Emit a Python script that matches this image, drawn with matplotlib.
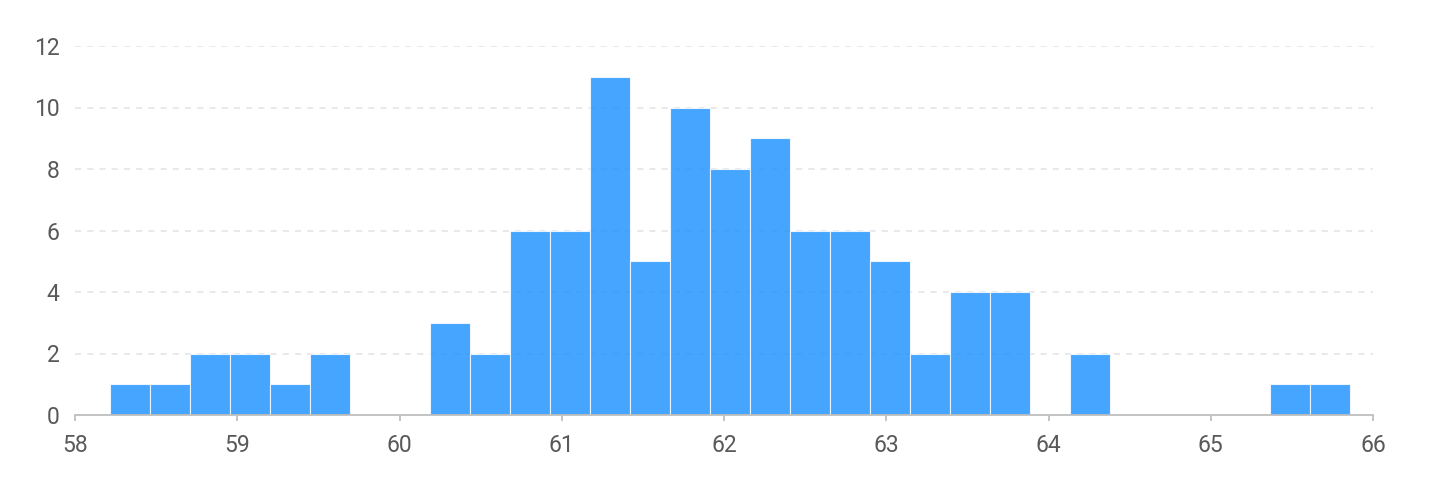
import matplotlib

matplotlib.use("Agg")

import matplotlib.pyplot as plt
import numpy as np

# histogram counts (31 equal bins)
counts = [1, 1, 2, 2, 1, 2, 0, 0, 3, 2, 6, 6, 11, 5, 10, 8,
          9, 6, 6, 5, 2, 4, 4, 0, 2, 0, 0, 0, 0, 1, 1]
bin_start = 58.216
bin_end = 65.858
x_ticks = [58, 59, 60, 61, 62, 63, 64, 65, 66]
y_ticks = [0, 2, 4, 6, 8, 10, 12]

edges = np.linspace(bin_start, bin_end, len(counts) + 1)
widths = np.diff(edges)

plt.rcParams["font.family"] = ["Roboto", "DejaVu Sans"]

fig = plt.figure(figsize=(14.3, 4.96), dpi=100)
ax = fig.add_axes([75 / 1430, 1 - 415 / 496, 1298 / 1430, 369 / 496])

ax.bar(edges[:-1], counts, width=widths, align="edge",
       color="#1890ff", alpha=0.8, edgecolor=(1, 1, 1, 0.3), linewidth=0.8, zorder=3)

ax.set_xlim(58, 66)
ax.set_ylim(0, 12)
ax.set_xticks(x_ticks)
ax.set_yticks(y_ticks)

ax.yaxis.grid(True, color="#e3e3e3", linestyle=(0, (4, 4)), linewidth=1.1, zorder=1)
ax.set_axisbelow(True)

for side in ["top", "right", "left"]:
    ax.spines[side].set_visible(False)
ax.spines["bottom"].set_color("#bfbfbf")
ax.spines["bottom"].set_linewidth(1.3)
ax.spines["bottom"].set_zorder(4)

ax.tick_params(axis="x", length=4.5, width=1.3, color="#bfbfbf", pad=9,
               labelsize=16.5, labelcolor="#595959")
ax.tick_params(axis="y", length=0, pad=11, labelsize=16.5, labelcolor="#595959")

fig.savefig("out.png", dpi=100)
